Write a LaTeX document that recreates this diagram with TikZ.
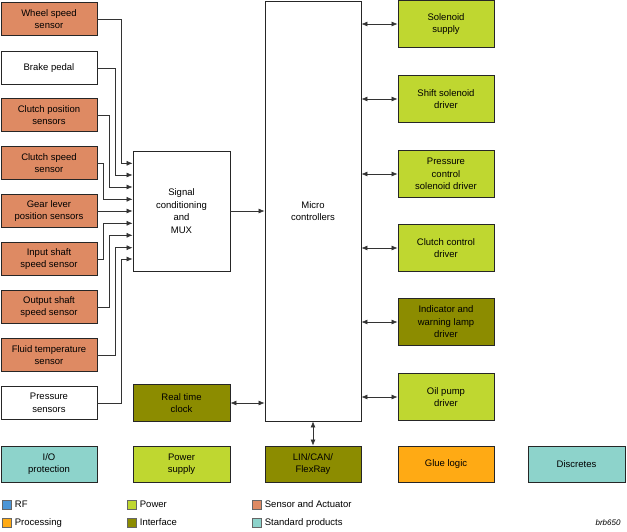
\documentclass[tikz,border=0pt]{standalone}
\usepackage{fontspec}
\setmainfont{Liberation Sans}
\usetikzlibrary{arrows.meta}
\definecolor{sensor}{HTML}{DE8A63}
\definecolor{power}{HTML}{BFD730}
\definecolor{iface}{HTML}{8C8C00}
\definecolor{stdprod}{HTML}{8DD3CB}
\definecolor{proc}{HTML}{FFAA14}
\definecolor{rf}{HTML}{4C96D7}
\tikzset{
  blk/.style={draw=black!85, line width=0.9pt, align=center, font=\fontsize{9.5}{12.5}\selectfont,
    inner sep=1pt},
  sbox/.style={blk, minimum width=96, minimum height=33},
  rbox/.style={blk, minimum width=96, minimum height=47},
  conn/.style={draw=black!80, line width=0.6pt},
  arr/.style={conn, -{Latex[length=6pt,width=5pt]}},
  darr/.style={conn, {Latex[length=6pt,width=5pt]}-{Latex[length=6pt,width=5pt]}},
  key/.style={draw=black!60, minimum size=9, inner sep=0pt},
  keytxt/.style={anchor=west, font=\fontsize{9.5}{11}\selectfont, inner sep=3pt,
    text height=7pt, text depth=2pt}
}
\begin{document}
\begin{tikzpicture}[x=1pt,y=-1pt]
\useasboundingbox (0,0) rectangle (627,531);
% sensors
\node[sbox, fill=sensor] (wheel) at (49,19) {Wheel speed\\sensor};
\node[sbox, fill=white] (brake) at (49,68) {Brake pedal};
\node[sbox, fill=sensor] (cpos) at (49,115) {Clutch position\\sensors};
\node[sbox, fill=sensor] (cspd) at (49,163) {Clutch speed\\sensor};
\node[sbox, fill=sensor] (gear) at (49,211) {Gear lever\\position sensors};
\node[sbox, fill=sensor] (inshaft) at (49,259) {Input shaft\\speed sensor};
\node[sbox, fill=sensor] (outshaft) at (49,307) {Output shaft\\speed sensor};
\node[sbox, fill=sensor] (fluid) at (49,355) {Fluid temperature\\sensor};
\node[sbox, fill=white] (press) at (49,403) {Pressure\\sensors};
% centre
\node[blk, fill=white, minimum width=97, minimum height=120] (mux) at (181.5,211) {Signal\\conditioning\\and\\MUX};
\node[blk, fill=white, minimum width=96, minimum height=420] (mcu) at (313,211) {Micro\\controllers};
\node[blk, fill=iface, minimum width=97, minimum height=37] (rtc) at (181.5,403) {Real time\\clock};
% drivers
\node[rbox, fill=power] (sol) at (446,24) {Solenoid\\supply};
\node[rbox, fill=power] (shift) at (446,99) {Shift solenoid\\driver};
\node[rbox, fill=power] (pcsd) at (446,174) {Pressure\\control\\solenoid driver};
\node[rbox, fill=power] (cctl) at (446,248) {Clutch control\\driver};
\node[rbox, fill=iface] (lamp) at (446,322) {Indicator and\\warning lamp\\driver};
\node[rbox, fill=power] (oil) at (446,397) {Oil pump\\driver};
% bottom row
\node[blk, fill=stdprod, minimum width=96, minimum height=36] (io) at (49,464) {I/O\\protection};
\node[blk, fill=power, minimum width=97, minimum height=36] (psu) at (181.5,464) {Power\\supply};
\node[blk, fill=iface, minimum width=96, minimum height=36] (lin) at (313,464) {LIN/CAN/\\FlexRay};
\node[blk, fill=proc, minimum width=96, minimum height=36] (glue) at (446,464) {Glue logic};
\node[blk, fill=stdprod, minimum width=97, minimum height=36] (disc) at (576.5,464) {Discretes};
% sensor lines
\draw[arr] (wheel.east) -| (121.7,163.3) -- (mux.west |- 0,163.3);
\draw[arr] (brake.east) -| (115.6,175) -- (mux.west |- 0,175);
\draw[arr] (cpos.east) -| (109.6,187) -- (mux.west |- 0,187);
\draw[arr] (cspd.east) -| (103.6,199.3) -- (mux.west |- 0,199.3);
\draw[arr] (gear.east) -- (mux.west |- gear.east);
\draw[arr] (inshaft.east) -| (103.6,223.3) -- (mux.west |- 0,223.3);
\draw[arr] (outshaft.east) -| (109.6,235.3) -- (mux.west |- 0,235.3);
\draw[arr] (fluid.east) -| (115.6,247.7) -- (mux.west |- 0,247.7);
\draw[arr] (press.east) -| (121.7,259) -- (mux.west |- 0,259);
\draw[arr] (mux.east) -- (mcu.west |- mux.east);
% bus lines
\foreach \d in {sol,shift,pcsd,cctl,lamp,oil}
  \draw[darr] (mcu.east |- \d.west) -- (\d.west);
\draw[darr] (rtc.east) -- (mcu.west |- rtc.east);
\draw[darr] (mcu.south) -- (lin.north);
% legend
\node[key, fill=rf] (krf) at (7,505) {};
\node[keytxt] at (krf.east) {RF};
\node[key, fill=proc] (kproc) at (7,523) {};
\node[keytxt] at (kproc.east) {Processing};
\node[key, fill=power] (kpow) at (132,505) {};
\node[keytxt] at (kpow.east) {Power};
\node[key, fill=iface] (kif) at (132,523) {};
\node[keytxt] at (kif.east) {Interface};
\node[key, fill=sensor] (ksens) at (257,505) {};
\node[keytxt] at (ksens.east) {Sensor and Actuator};
\node[key, fill=stdprod] (kstd) at (257,523) {};
\node[keytxt] at (kstd.east) {Standard products};
\node[anchor=east, font=\fontsize{8}{9}\selectfont\itshape] (tag) at (624,523) {brb650};
\end{tikzpicture}
\end{document}
